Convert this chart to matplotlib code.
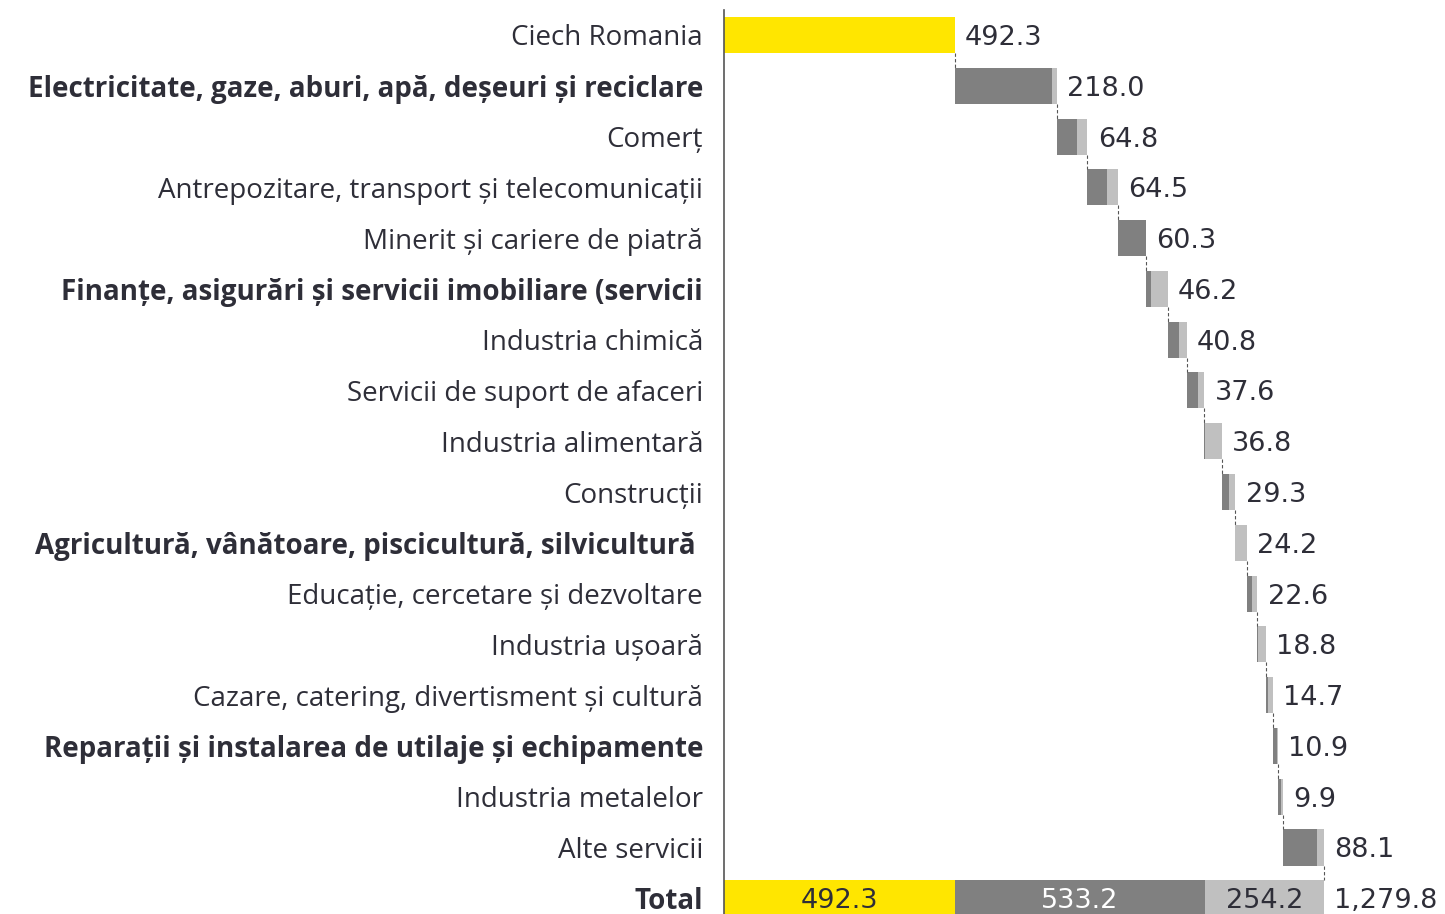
import numpy as np
import matplotlib.pyplot as plt

categories = ["Ciech Romania",
              "Electricitate, gaze, aburi, apă, deșeuri și reciclare",
              "Comerț",
              "Antrepozitare, transport și telecomunicații",
              "Minerit și cariere de piatră",
              "Finanțe, asigurări și servicii imobiliare (servicii",
              "Industria chimică",
              "Servicii de suport de afaceri",
              "Industria alimentară",
              "Construcții",
              "Agricultură, vânătoare, piscicultură, silvicultură ",
              "Educație, cercetare și dezvoltare",
              "Industria ușoară",
              "Cazare, catering, divertisment și cultură",
              "Reparații și instalarea de utilaje și echipamente",
              "Industria metalelor",
              "Alte servicii"]
bold_labels = [1, 5, 10, 14]

direct = 492.3
# dark = indirect, light = induced
dark = [208.0, 42.0, 41.0, 59.7, 10.7, 25.0, 24.0, 1.5, 15.6, 0.5, 10.7, 2.0, 4.0, 9.0, 6.0, 73.5]
light = [10.0, 22.8, 23.5, 0.6, 35.5, 15.8, 13.6, 35.3, 13.7, 23.7, 11.9, 16.8, 10.7, 1.9, 3.9, 14.6]
totals = [218.0, 64.8, 64.5, 60.3, 46.2, 40.8, 37.6, 36.8, 29.3, 24.2, 22.6, 18.8, 14.7, 10.9, 9.9, 88.1]
total_dark = 533.2
total_light = 254.2
grand_total = 1279.8

YELLOW = "#FFE600"
DARK = "#808080"
LIGHT = "#C0C0C0"
TXT = "#2E2E38"
FS = 20
NUM = dict(fontsize=19.5, family="DejaVu Sans")
OFF = 7.5

plt.rcParams["font.family"] = ["Open Sans", "DejaVu Sans"]

fig = plt.figure(figsize=(14.45, 9.14), dpi=100)
ax = fig.add_axes([0.501, 0, 0.499, 1])

h = 0.71
# first bar
ax.barh(0, direct, height=h, color=YELLOW)
ax.annotate(f"{direct:.1f}", (direct, 0), xytext=(OFF, 0), textcoords="offset points",
            va="center_baseline", ha="left", color=TXT, **NUM)

start = direct
for i in range(len(dark)):
    y = i + 1
    ax.plot([start, start], [y - 1 + h / 2, y - h / 2], color="#555555", lw=0.8, ls=(0, (3, 2)))
    ax.barh(y, dark[i], left=start, height=h, color=DARK)
    ax.barh(y, light[i], left=start + dark[i], height=h, color=LIGHT)
    start = start + dark[i] + light[i]
    ax.annotate(f"{totals[i]:.1f}", (start, y), xytext=(OFF, 0), textcoords="offset points",
                va="center_baseline", ha="left", color=TXT, **NUM)

# total row
yt = len(dark) + 1
ax.plot([start, start], [yt - 1 + h / 2, yt - h / 2], color="#555555", lw=0.8, ls=(0, (3, 2)))
ax.barh(yt, direct, height=h, color=YELLOW)
ax.barh(yt, total_dark, left=direct, height=h, color=DARK)
ax.barh(yt, total_light, left=direct + total_dark, height=h, color=LIGHT)
ax.text(direct / 2, yt, f"{direct:.1f}", ha="center", va="center_baseline", color=TXT, **NUM)
ax.text(direct + total_dark / 2, yt, f"{total_dark:.1f}", ha="center", va="center_baseline",
        color="white", **NUM)
ax.text(direct + total_dark + total_light / 2, yt, f"{total_light:.1f}", ha="center",
        va="center_baseline", color=TXT, **NUM)
ax.annotate(f"{grand_total:,.1f}", (grand_total, yt), xytext=(OFF, 0), textcoords="offset points",
            va="center_baseline", ha="left", color=TXT, **NUM)

ax.set_xlim(0, 1538)
ax.set_ylim(17.31, -0.689)
ax.set_yticks(np.arange(len(categories) + 1))
ax.set_yticklabels(categories + ["Total"], fontsize=FS, color=TXT)
for i, lab in enumerate(ax.get_yticklabels()):
    if i in bold_labels or i == len(categories):
        lab.set_fontweight("bold")
ax.tick_params(axis="y", length=0, pad=15)
ax.set_xticks([])
for s in ["top", "right", "bottom"]:
    ax.spines[s].set_visible(False)
ax.spines["left"].set_color("#555555")
ax.spines["left"].set_linewidth(1.2)
ax.spines["left"].set_bounds(-0.5, 17.31)

fig.savefig("out.png", dpi=100)
